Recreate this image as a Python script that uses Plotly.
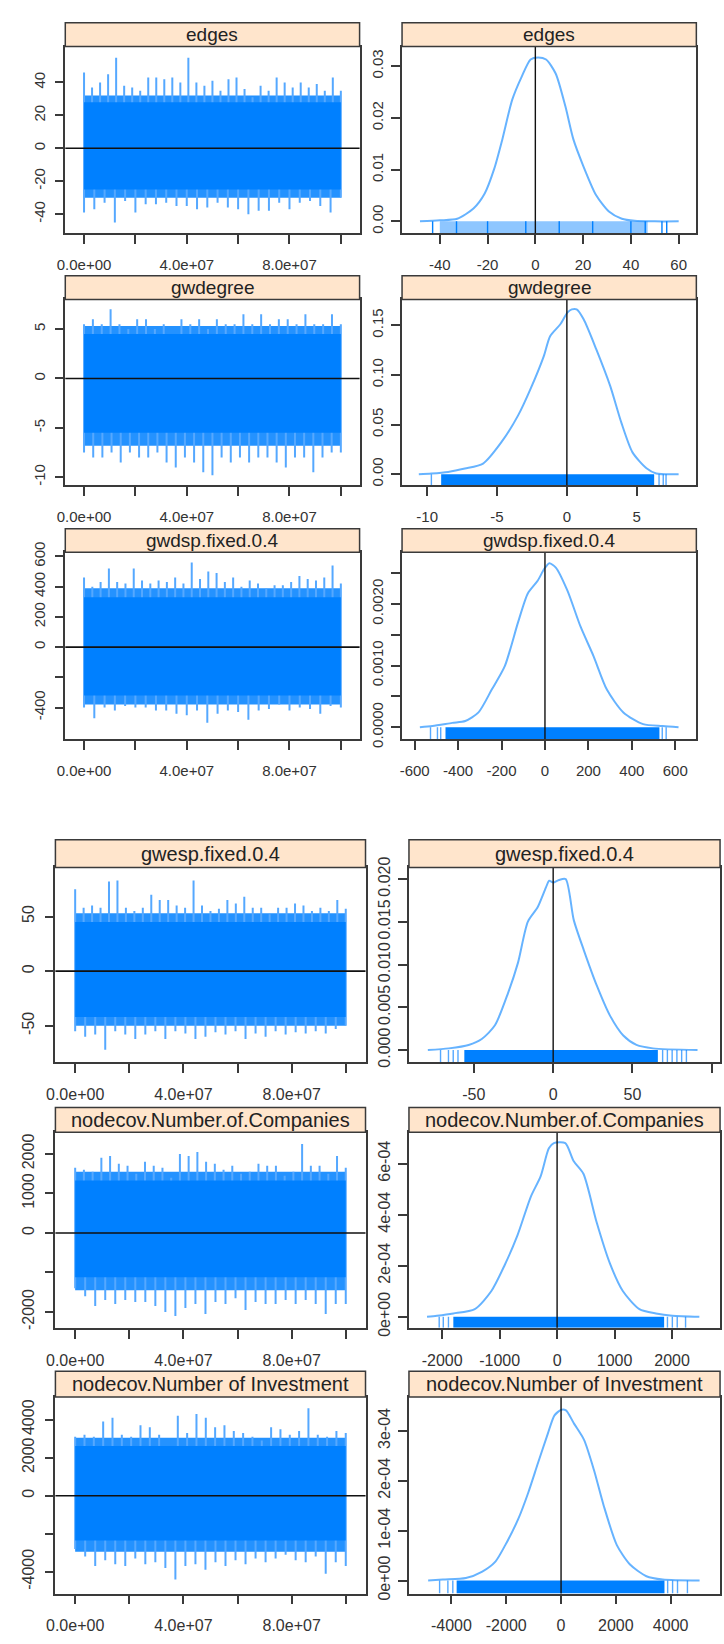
import plotly.graph_objects as go

W, H = 724, 1644

# ---------------- data ----------------
param_names = ["edges", "gwdegree", "gwdsp.fixed.0.4", "gwesp.fixed.0.4",
               "nodecov.Number.of.Companies", "nodecov.Number of Investment"]

ITER_START, ITER_END = 0, 1e8
trace_xticks = [0, 2e7, 4e7, 6e7, 8e7, 1e8]
trace_xticktext = ["0.0e+00", "", "4.0e+07", "", "8.0e+07", ""]

# dense core of each trace (lower, upper)
edges_core = (-25, 28)
gwdegree_core = (-5.5, 4.5)
gwdsp_core = (-320, 330)
gwesp_core = (-42, 45)
companies_core = (-1120, 1330)
investment_core = (-2350, 2620)

# thinner fringe just outside the core (lower, upper)
edges_fringe = (-30, 32)
gwdegree_fringe = (-6.8, 5.3)
gwdsp_fringe = (-380, 390)
gwesp_fringe = (-50, 53)
companies_fringe = (-1450, 1550)
investment_fringe = (-2950, 3050)

# spike extremes read along the chain (upper / lower)
edges_hi = [46, 37, 40, 45, 55, 38, 37, 35, 43, 43, 42, 43, 40, 55, 40, 38, 41, 35, 42, 43, 36, 31, 38, 35, 43, 40, 37, 40, 37, 39, 35, 43, 35]
edges_lo = [-39, -37, -33, -45, -32, -39, -34, -34, -33, -35, -35, -37, -36, -33, -36, -37, -40, -38, -38, -33, -37, -33, -32, -35, -39, -30]
gwdegree_hi = [5.5, 6, 5.5, 7, 5.5, 5, 6, 6, 5, 5.5, 4.5, 6, 5.5, 6, 5, 6, 5.5, 5.5, 6.5, 5.5, 6.5, 5.5, 6, 6, 5.5, 6.5, 5.5, 5.5, 6.5, 5.5]
gwdegree_lo = [-7.5, -8, -8, -7.5, -8.5, -7.5, -8, -8, -7.5, -8.5, -9, -8, -8.5, -9.5, -9.8, -8, -8.5, -8, -8.5, -8, -8, -8.5, -9, -8, -8, -9.5, -8, -7.5, -7.5]
gwdsp_hi = [460, 400, 430, 520, 430, 420, 520, 440, 420, 440, 430, 460, 420, 560, 450, 500, 490, 430, 460, 400, 440, 420, 390, 410, 410, 430, 470, 450, 440, 460, 540, 420]
gwdsp_lo = [-400, -470, -400, -420, -390, -400, -400, -420, -420, -440, -450, -420, -500, -440, -420, -430, -480, -420, -410, -380, -420, -400, -410, -440, -390, -400]
gwesp_hi = [75, 58, 60, 58, 82, 83, 58, 55, 58, 70, 65, 65, 60, 58, 83, 60, 55, 57, 65, 62, 68, 58, 58, 52, 58, 58, 62, 60, 55, 58, 55, 65, 57]
gwesp_lo = [-55, -60, -58, -72, -55, -58, -62, -58, -55, -62, -55, -57, -62, -60, -56, -58, -55, -62, -57, -60, -55, -58, -56, -57, -55, -57, -53, -50]
companies_hi = [1650, 1600, 1550, 1900, 1950, 1750, 1700, 1500, 1800, 1700, 1650, 1400, 2000, 1950, 2050, 1800, 1750, 1600, 1700, 1500, 1550, 1750, 1700, 1700, 1450, 1550, 2250, 1700, 1700, 1500, 1950, 1650]
companies_lo = [-1400, -1600, -1850, -1700, -1800, -1700, -1750, -1750, -1850, -2000, -2100, -1900, -1800, -2050, -1750, -1800, -1650, -1950, -1750, -1800, -1800, -1700, -1800, -1700, -1800, -2050, -1800, -1800]
investment_hi = [3100, 3200, 3100, 3900, 4100, 3200, 3100, 3700, 3600, 3200, 2600, 4200, 3300, 4300, 4100, 3600, 3700, 3400, 3300, 3100, 2900, 3600, 3500, 3200, 3400, 4600, 3200, 3100, 3400, 3300]
investment_lo = [-2800, -3200, -3700, -3400, -3600, -3700, -3300, -3600, -3500, -3800, -4400, -3700, -3600, -3900, -3500, -3700, -3400, -3600, -3300, -3500, -3300, -3100, -3400, -3500, -3200, -4100, -3500, -3700]

# density curves (x, density)
edges_dx = [-48.3, -40, -32.7, -25.9, -21.2, -17.2, -13.8, -9.7, -5.7, -2, 1.1, 4.5, 8.5, 12.6, 15.9, 20, 25.4, 30.8, 36.2, 41.6, 50, 60]
edges_dy = [0, 0.0002, 0.0005, 0.0025, 0.0054, 0.0102, 0.0159, 0.0235, 0.028, 0.0313, 0.0317, 0.0313, 0.0286, 0.0222, 0.0159, 0.0108, 0.0051, 0.0019, 0.0005, 0.0001, 0, 0]
gwdegree_dx = [-10.6, -9.7, -8.5, -7.3, -6.0, -4.7, -3.5, -2.6, -1.65, -1.2, -0.47, 0.05, 0.35, 0.7, 1.2, 2.1, 3.1, 3.9, 4.7, 5.7, 6.4, 8.0]
gwdegree_dy = [0, 0.0007, 0.0023, 0.0057, 0.0107, 0.032, 0.059, 0.086, 0.119, 0.139, 0.151, 0.163, 0.166, 0.166, 0.156, 0.126, 0.089, 0.052, 0.022, 0.006, 0.0007, 0]
gwdsp_dx = [-576, -518, -427, -367, -306, -245, -185, -124, -79, -33, -3, 20, 50, 103, 164, 224, 285, 361, 452, 542, 615]
gwdsp_dy = [0, 0.00002, 0.00007, 0.0001, 0.00024, 0.00061, 0.00099, 0.0017, 0.00217, 0.00238, 0.00257, 0.00266, 0.00259, 0.00222, 0.00163, 0.00115, 0.00061, 0.00024, 0.00005, 0.00002, 0]
gwesp_dx = [-79, -65.8, -53.3, -45, -36.7, -28.4, -22.2, -16, -9.8, -4.6, -2.5, 0, 3.7, 7.9, 13, 19.3, 27.6, 35.9, 44.2, 52.5, 62.9, 91]
gwesp_dy = [0, 0.0002, 0.0006, 0.0013, 0.0029, 0.0067, 0.0102, 0.015, 0.0167, 0.019, 0.0198, 0.0196, 0.0199, 0.02, 0.0152, 0.0117, 0.0075, 0.004, 0.0017, 0.0006, 0.0002, 0]
companies_dx = [-2263, -2091, -1805, -1432, -1146, -917, -688, -458, -287, -143, -57, 143, 287, 458, 688, 917, 1146, 1432, 1719, 2005, 2475]
companies_dy = [0, 0.000004, 0.000013, 0.00003, 0.0001, 0.0002, 0.00032, 0.00047, 0.00055, 0.00066, 0.00068, 0.00068, 0.00061, 0.00056, 0.00037, 0.00021, 0.0001, 0.00003, 0.000013, 0.000004, 0]
investment_dx = [-4850, -4312, -3474, -2875, -2396, -2036, -1557, -1198, -839, -479, -240, 0, 180, 479, 839, 1198, 1557, 2036, 2516, 3115, 3714, 5055]
investment_dy = [0, 2e-6, 5e-6, 1.8e-5, 3.8e-5, 7.1e-5, 1.24e-4, 1.76e-4, 2.36e-4, 2.95e-4, 3.31e-4, 3.42e-4, 3.41e-4, 3.14e-4, 2.82e-4, 2.22e-4, 1.5e-4, 7.1e-5, 3.2e-5, 8.6e-6, 2e-6, 0]

# rug: dense band (lo, hi) and isolated tail values
edges_rug_band = (-40, 47)
edges_rug_ticks = [-43, -33, -20, -4, 10, 24, 40, 46, 53, 55]
gwdegree_rug_band = (-9.0, 6.25)
gwdegree_rug_ticks = [-9.7, 6.6, 6.9, 7.1]
gwdsp_rug_band = (-458, 527)
gwdsp_rug_ticks = [-527, -495, -480, 540, 558]
gwesp_rug_band = (-56, 66)
gwesp_rug_ticks = [-71, -66, -63, -60, 69, 72, 75, 78, 81, 84]
companies_rug_band = (-1805, 1862)
companies_rug_ticks = [-2051, -1980, -1890, 1920, 2005, 2090, 2235]
investment_rug_band = (-3810, 3774)
investment_rug_ticks = [-4432, -4130, -3950, 3890, 4070, 4250, 4612]

# tick labels
trace_yticks = [
    ([-40, -20, 0, 20, 40], ["-40", "-20", "0", "20", "40"]),
    ([-10, -5, 0, 5], ["-10", "-5", "0", "5"]),
    ([-400, -200, 0, 200, 400, 600], ["-400", "", "0", "200", "400", "600"]),
    ([-50, 0, 50], ["-50", "0", "50"]),
    ([-2000, -1000, 0, 1000, 2000], ["-2000", "", "0", "1000", "2000"]),
    ([-4000, -2000, 0, 2000, 4000], ["-4000", "", "0", "2000", "4000"]),
]
dens_yticks = [
    ([0, 0.01, 0.02, 0.03], ["0.00", "0.01", "0.02", "0.03"]),
    ([0, 0.05, 0.10, 0.15], ["0.00", "0.05", "0.10", "0.15"]),
    ([0, 0.0005, 0.001, 0.0015, 0.002, 0.0025], ["0.0000", "", "0.0010", "", "0.0020", ""]),
    ([0, 0.005, 0.01, 0.015, 0.02], ["0.000", "0.005", "0.010", "0.015", "0.020"]),
    ([0, 2e-4, 4e-4, 6e-4], ["0e+00", "2e-04", "4e-04", "6e-04"]),
    ([0, 1e-4, 2e-4, 3e-4], ["0e+00", "1e-04", "2e-04", "3e-04"]),
]
dens_xticks = [
    ([-40, -20, 0, 20, 40, 60], ["-40", "-20", "0", "20", "40", "60"]),
    ([-10, -5, 0, 5], ["-10", "-5", "0", "5"]),
    ([-600, -400, -200, 0, 200, 400, 600], ["-600", "-400", "-200", "0", "200", "400", "600"]),
    ([-50, 0, 50, 100], ["-50", "0", "50", "100"]),
    ([-2000, -1000, 0, 1000, 2000], ["-2000", "-1000", "0", "1000", "2000"]),
    ([-4000, -2000, 0, 2000, 4000], ["-4000", "-2000", "0", "2000", "4000"]),
]

cores = [edges_core, gwdegree_core, gwdsp_core, gwesp_core, companies_core, investment_core]
fringes = [edges_fringe, gwdegree_fringe, gwdsp_fringe, gwesp_fringe, companies_fringe, investment_fringe]
his = [edges_hi, gwdegree_hi, gwdsp_hi, gwesp_hi, companies_hi, investment_hi]
los = [edges_lo, gwdegree_lo, gwdsp_lo, gwesp_lo, companies_lo, investment_lo]
dxs = [edges_dx, gwdegree_dx, gwdsp_dx, gwesp_dx, companies_dx, investment_dx]
dys = [edges_dy, gwdegree_dy, gwdsp_dy, gwesp_dy, companies_dy, investment_dy]
rug_bands = [edges_rug_band, gwdegree_rug_band, gwdsp_rug_band, gwesp_rug_band, companies_rug_band, investment_rug_band]
rug_ticks = [edges_rug_ticks, gwdegree_rug_ticks, gwdsp_rug_ticks, gwesp_rug_ticks, companies_rug_ticks, investment_rug_ticks]

# ---------------- layout geometry (pixels) ----------------
rows = [(36, 225, 12), (292, 480, 268), (548, 737, 524),
        (867, 1064, 839), (1135, 1333, 1110), (1403, 1602, 1377)]
left_cols = [(57, 355)] * 3 + [(47, 361)] * 3
right_cols = [(398, 696)] * 3 + [(405, 720)] * 3
trace_xrange = [-7.3e6, 1.073e8]
trace_yranges = [[-51.6, 61.8], [-10.8, 8.0], [-608, 627], [-83.2, 94.9], [-2400, 2550], [-5143, 5195]]
dens_xranges = [[-55.8, 67.4], [-11.8, 9.27], [-658, 697], [-90.9, 105.2], [-2577, 2835], [-5550, 5802]]
dens_yranges = [[-0.0023, 0.0338], [-0.011, 0.176], [-0.000192, 0.002837], [-0.0014, 0.02136], [-4.3e-5, 7.23e-4], [-2.6e-5, 3.68e-4]]
tick_fs = [15, 15, 15, 16, 16, 16]
strip_fs = [19, 19, 19, 20, 20, 20]

CORE = "#0080FF"
FRINGE = "rgba(0,128,255,0.86)"
SPIKE = "#55A8FF"
DENS = "rgba(0,128,255,0.6)"
FRAME = "#3a3a3a"
STRIP_BG = "#FFE5CC"
FONT = "Liberation Sans, Arial, sans-serif"

fig = go.Figure()
shapes, annotations = [], []


def axname(i):
    return ("x", "y") if i == 1 else (f"x{i}", f"y{i}")


def xdom(a, b):
    return [a / W, b / W]


def ydom(top, bottom):
    return [1 - bottom / H, 1 - top / H]


def axis_style(fs):
    return dict(showline=True, linecolor=FRAME, linewidth=1.5, mirror=True,
                ticks="outside", ticklen=9, tickwidth=1.5, tickcolor=FRAME,
                showgrid=False, zeroline=False,
                tickfont=dict(family=FONT, size=fs, color="#333333"))


def add_strip(x0, x1, top, bottom, text, fs):
    shapes.append(dict(type="rect", xref="paper", yref="paper",
                       x0=x0 / W, x1=x1 / W, y0=1 - bottom / H, y1=1 - top / H,
                       fillcolor=STRIP_BG, line=dict(color=FRAME, width=1.5), layer="above"))
    annotations.append(dict(xref="paper", yref="paper", x=(x0 + x1) / 2 / W,
                            y=1 - (top + bottom) / 2 / H, text=text, showarrow=False,
                            xanchor="center", yanchor="middle",
                            font=dict(family=FONT, size=fs, color="#222222")))


def band(lo, hi, color, xa, ya):
    return go.Scatter(x=[ITER_START, ITER_END, ITER_END, ITER_START, ITER_START],
                      y=[lo, lo, hi, hi, lo], mode="lines", fill="toself",
                      fillcolor=color, line=dict(width=0), xaxis=xa, yaxis=ya,
                      hoverinfo="skip", showlegend=False)


layout_axes = {}
ax = 0
for r in range(6):
    top, bottom, stop = rows[r]
    # ---------- trace panel ----------
    ax += 1
    xa, ya = axname(ax)
    lo_c, hi_c = cores[r]
    lo_f, hi_f = fringes[r]
    hi, lo = his[r], los[r]
    sx, sy = [], []
    nh = len(hi)
    for i, v in enumerate(hi):
        it = ITER_START + (ITER_END - ITER_START) * i / (nh - 1)
        sx += [it, it, None]
        sy += [0, v, None]
    nl = len(lo)
    for i, v in enumerate(lo):
        it = ITER_START + (ITER_END - ITER_START) * i / (nl - 1)
        sx += [it, it, None]
        sy += [0, v, None]
    fig.add_trace(band(lo_f, hi_f, FRINGE, xa, ya))
    fig.add_trace(go.Scatter(x=sx, y=sy, mode="lines", xaxis=xa, yaxis=ya,
                             line=dict(color=SPIKE, width=2), hoverinfo="skip", showlegend=False))
    fig.add_trace(band(lo_c, hi_c, CORE, xa, ya))
    x0, x1 = left_cols[r]
    xs = axis_style(tick_fs[r])
    xs.update(domain=xdom(x0, x1), range=trace_xrange, anchor=ya,
              tickvals=trace_xticks, ticktext=trace_xticktext, ticklabelstandoff=8)
    ys = axis_style(tick_fs[r])
    tv, tt = trace_yticks[r]
    ys.update(domain=ydom(top, bottom), range=trace_yranges[r], anchor=xa,
              tickvals=tv, ticktext=tt, tickangle=-90, ticklabelstandoff=4)
    layout_axes["xaxis" if ax == 1 else f"xaxis{ax}"] = xs
    layout_axes["yaxis" if ax == 1 else f"yaxis{ax}"] = ys
    shapes.append(dict(type="line", xref=f"{xa} domain", yref=ya, x0=0, x1=1, y0=0, y1=0,
                       line=dict(color="#111111", width=1.6), layer="above"))
    add_strip(x0, x1, stop, top, param_names[r], strip_fs[r])

    # ---------- density panel ----------
    ax += 1
    xa, ya = axname(ax)
    ymin = dens_yranges[r][0]
    rb_lo, rb_hi = rug_bands[r]
    band_color = "#8EC6FF" if r == 0 else CORE
    fig.add_trace(go.Scatter(x=[rb_lo, rb_hi, rb_hi, rb_lo, rb_lo], y=[ymin, ymin, 0, 0, ymin],
                             mode="lines", fill="toself", fillcolor=band_color,
                             line=dict(color=band_color, width=0), xaxis=xa, yaxis=ya,
                             hoverinfo="skip", showlegend=False))
    rx, ry = [], []
    for v in rug_ticks[r]:
        rx += [v, v, None]
        ry += [ymin, 0, None]
    fig.add_trace(go.Scatter(x=rx, y=ry, mode="lines", xaxis=xa, yaxis=ya,
                             line=dict(color=CORE if r == 0 else SPIKE, width=1.4),
                             hoverinfo="skip", showlegend=False))
    fig.add_trace(go.Scatter(x=dxs[r], y=dys[r], mode="lines", xaxis=xa, yaxis=ya,
                             line=dict(color=DENS, width=2, shape="spline", smoothing=0.7),
                             hoverinfo="skip", showlegend=False))
    x0, x1 = right_cols[r]
    xs = axis_style(tick_fs[r])
    tv, tt = dens_xticks[r]
    xs.update(domain=xdom(x0, x1), range=dens_xranges[r], anchor=ya,
              tickvals=tv, ticktext=tt, ticklabelstandoff=8)
    ys = axis_style(tick_fs[r])
    tv, tt = dens_yticks[r]
    ys.update(domain=ydom(top, bottom), range=dens_yranges[r], anchor=xa,
              tickvals=tv, ticktext=tt, tickangle=-90, ticklabelstandoff=2)
    layout_axes["xaxis" if ax == 1 else f"xaxis{ax}"] = xs
    layout_axes["yaxis" if ax == 1 else f"yaxis{ax}"] = ys
    shapes.append(dict(type="line", xref=xa, yref=f"{ya} domain", x0=0, x1=0, y0=0, y1=1,
                       line=dict(color="#111111", width=1.4), layer="above"))
    add_strip(x0, x1, stop, top, param_names[r], strip_fs[r])

fig.update_layout(width=W, height=H, margin=dict(l=0, r=0, t=0, b=0),
                  paper_bgcolor="white", plot_bgcolor="white",
                  shapes=shapes, annotations=annotations, showlegend=False,
                  **layout_axes)
fig.write_html("out.html")
